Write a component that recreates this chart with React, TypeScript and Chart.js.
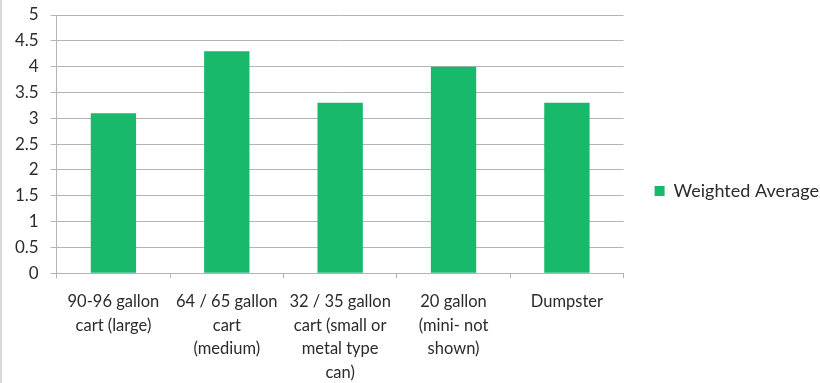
import React, { useEffect, useRef } from "react";
import { Chart, registerables } from "chart.js";

Chart.register(...registerables);

const categories: string[][] = [
  ["90-96 gallon", "cart (large)"],
  ["64 / 65 gallon", "cart", "(medium)"],
  ["32 / 35 gallon", "cart (small or", "metal type", "can)"],
  ["20 gallon", "(mini- not", "shown)"],
  ["Dumpster"],
];
const weightedAverage: number[] = [3.1, 4.3, 3.3, 4.0, 3.3];
const seriesLabel = "Weighted Average";
const yMin = 0;
const yMax = 5;
const yStep = 0.5;

const FONT = "Lato, 'Open Sans', sans-serif";
const TEXT = "#2b2b2b";
const GRID = "#b4b4b4";
const GREEN = "#19b96c";

const legendShift = {
  id: "legendShift",
  afterLayout(chart: any) {
    const lg = chart.legend;
    if (lg) {
      lg.top -= 7;
      lg.bottom -= 7;
    }
  },
};

export default function App() {
  const ref = useRef<HTMLCanvasElement | null>(null);
  useEffect(() => {
    document.body.style.margin = "0";
    const chart = new Chart(ref.current!, {
      type: "bar",
      data: {
        labels: categories,
        datasets: [
          {
            label: seriesLabel,
            data: weightedAverage,
            backgroundColor: GREEN,
            borderWidth: 0,
            barPercentage: 0.4,
            categoryPercentage: 1,
          },
        ],
      },
      plugins: [legendShift],
      options: {
        animation: false,
        responsive: false,
        maintainAspectRatio: false,
        layout: { padding: { left: 3, right: -9, top: 0, bottom: -13 } },
        plugins: {
          tooltip: { enabled: false },
          legend: {
            position: "right",
            labels: {
              boxWidth: 10,
              boxHeight: 10,
              padding: 31,
              color: TEXT,
              font: { family: FONT, size: 18 },
            },
          },
        },
        scales: {
          x: {
            grid: {
              drawOnChartArea: false,
              drawTicks: true,
              tickLength: 5,
              color: GRID,
            },
            border: { color: GRID, width: 1 },
            ticks: {
              color: TEXT,
              font: { family: FONT, size: 16.5, lineHeight: 1.42 },
              padding: 12,
              maxRotation: 0,
              autoSkip: false,
            },
          },
          y: {
            min: yMin,
            max: yMax,
            grid: { color: GRID, tickLength: 6, lineWidth: 1 },
            border: { color: GRID, width: 1 },
            afterFit: (scale: any) => {
              scale.paddingTop = 15;
            },
            ticks: {
              stepSize: yStep,
              color: TEXT,
              font: { family: FONT, size: 17 },
              padding: 12,
              callback: (v) => String(Number(v)),
            },
          },
        },
      },
    });
    return () => chart.destroy();
  }, []);
  return (
    <div
      style={{
        position: "absolute",
        left: 0,
        top: 0,
        width: 820,
        height: 383,
        background: "#fff",
      }}
    >
      <canvas ref={ref} width={820} height={383} style={{ display: "block" }} />
      <div
        style={{
          position: "absolute",
          left: 0,
          top: 0,
          width: 2,
          height: 383,
          background: "#d8d8d8",
        }}
      />
    </div>
  );
}
